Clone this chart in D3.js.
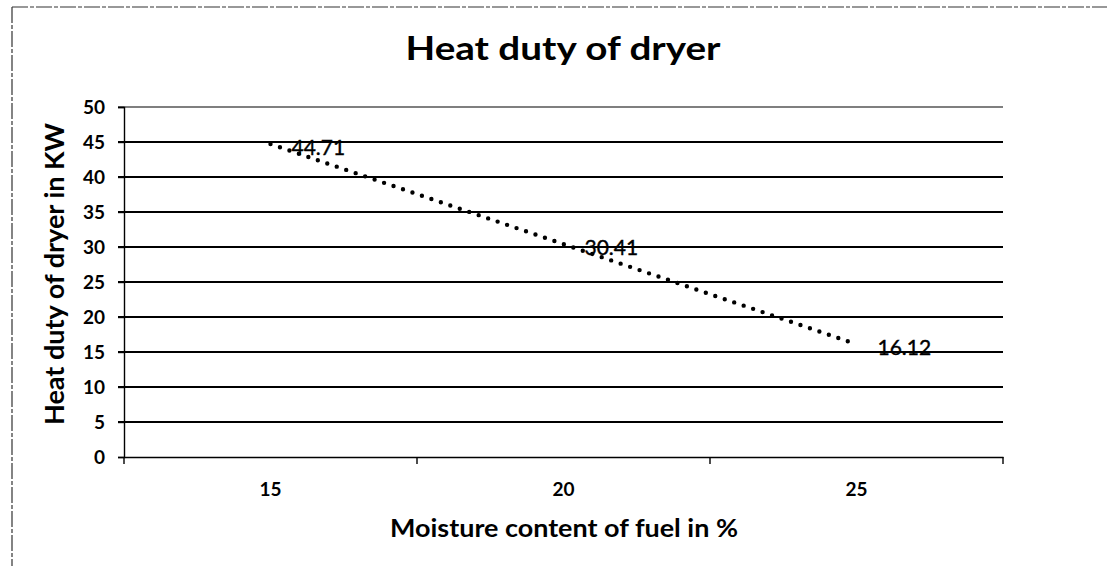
<!DOCTYPE html>
<html><head><meta charset="utf-8">
<script src="https://cdn.jsdelivr.net/npm/d3@7"></script>
<style>
html,body{margin:0;padding:0;background:#fff;}
svg text{font-family:Lato,"Open Sans",sans-serif;fill:#000;}
</style></head>
<body>
<svg id="chart" width="1107" height="566"></svg>
<script>
const categories = ["15", "20", "25"];
const heatDuty = [44.71, 30.41, 16.12];
const yTicks = [0, 5, 10, 15, 20, 25, 30, 35, 40, 45, 50];
const titleText = "Heat duty of dryer";
const xTitleText = "Moisture content of fuel in %";
const yTitleText = "Heat duty of dryer in KW";

const svg = d3.select("#chart");
const W = 1107, H = 566;
const plot = {left: 124, right: 1003, top: 107, bottom: 457};

// outer chart border (scan-like)
svg.append("line").attr("x1", 12).attr("y1", 7).attr("x2", W).attr("y2", 7)
  .attr("stroke", "#333").attr("stroke-width", 1.2).attr("stroke-dasharray", "16 2 4 2");
svg.append("line").attr("x1", 12).attr("y1", 7).attr("x2", 12).attr("y2", H)
  .attr("stroke", "#333").attr("stroke-width", 1.2).attr("stroke-dasharray", "16 2 4 2");

const x = d3.scaleBand().domain(categories).range([plot.left, plot.right]).paddingInner(0).paddingOuter(0);
const y = d3.scaleLinear().domain([0, 50]).range([plot.bottom, plot.top]);

// gridlines
svg.append("g").selectAll("line").data(yTicks.filter(d => d > 0)).join("line")
  .attr("x1", plot.left - 6).attr("x2", plot.right)
  .attr("y1", d => y(d)).attr("y2", d => y(d))
  .attr("stroke", "#000").attr("stroke-width", d => d === 50 ? 1.2 : 2);

// y axis
const yAxis = d3.axisLeft(y).tickValues(yTicks).tickSize(6).tickPadding(13);
const gy = svg.append("g").attr("transform", `translate(${plot.left},0)`).call(yAxis);
gy.select(".domain").attr("stroke", "#000").attr("stroke-width", 1.4);
gy.selectAll(".tick line").attr("stroke", "#000").attr("stroke-width", 1.4);
gy.selectAll(".tick text").style("font-size", "19px").style("font-weight", "bold")
  .style("font-family", "Lato, 'Open Sans', sans-serif").attr("fill", "#000");

// x axis
const xAxis = d3.axisBottom(x).tickSize(0).tickPadding(26);
const gx = svg.append("g").attr("transform", `translate(0,${plot.bottom})`).call(xAxis);
gx.select(".domain").attr("stroke", "#000").attr("stroke-width", 1.4);
gx.selectAll(".tick text").style("font-size", "19px").style("font-weight", "bold")
  .style("font-family", "Lato, 'Open Sans', sans-serif").attr("fill", "#000");
// band boundary tick marks
const bounds = categories.map(c => x(c)).concat([x(categories[categories.length - 1]) + x.bandwidth()]);
svg.append("g").selectAll("line").data(bounds).join("line")
  .attr("x1", d => d).attr("x2", d => d)
  .attr("y1", plot.bottom).attr("y2", plot.bottom + 7)
  .attr("stroke", "#000").attr("stroke-width", 1.4);

// dotted series line
const pts = categories.map((c, i) => [x(c) + x.bandwidth() / 2, y(heatDuty[i])]);
svg.append("path").attr("d", d3.line()(pts))
  .attr("fill", "none").attr("stroke", "#000").attr("stroke-width", 4.4)
  .attr("stroke-linecap", "round").attr("stroke-dasharray", "0 10");

// data labels
svg.append("g").selectAll("text").data(heatDuty).join("text")
  .attr("x", (d, i) => x(categories[i]) + x.bandwidth() / 2 + 21)
  .attr("y", d => y(d) + 2)
  .attr("dominant-baseline", "central")
  .style("font-size", "21px")
  .style("stroke", "#000").style("stroke-width", 0.4)
  .text(d => d.toFixed(2));

// titles
function fit(sel, w) {
  sel.attr("textLength", w).attr("lengthAdjust", "spacingAndGlyphs");
}
svg.append("text").attr("x", 563).attr("y", 60).attr("text-anchor", "middle")
  .style("font-size", "32px").style("font-weight", "bold").text(titleText).call(fit, 315);
svg.append("text").attr("x", 564).attr("y", 537).attr("text-anchor", "middle")
  .style("font-size", "25px").style("font-weight", "bold").text(xTitleText).call(fit, 348);
svg.append("text").attr("transform", "translate(64,274) rotate(-90)").attr("text-anchor", "middle")
  .style("font-size", "26px").style("font-weight", "bold").text(yTitleText).call(fit, 302);
</script>
</body></html>
